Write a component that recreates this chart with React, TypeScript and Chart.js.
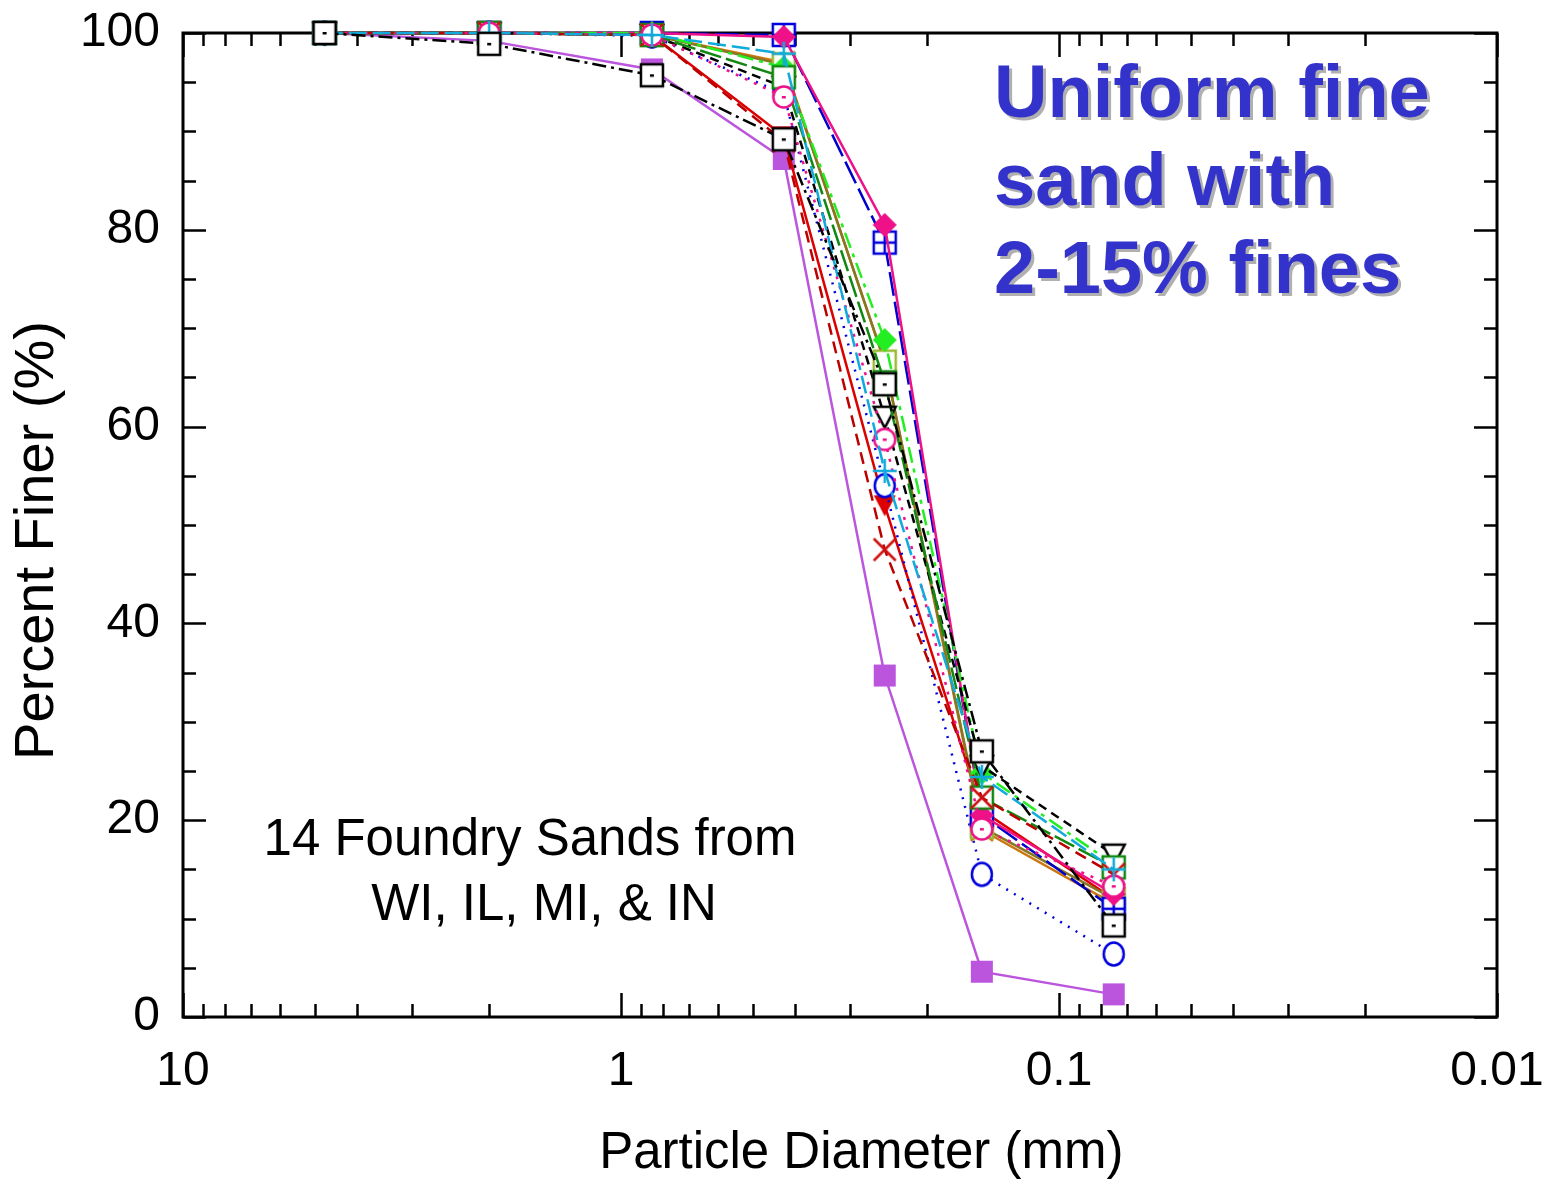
import React, { useEffect, useRef } from "react";
import { Chart, registerables } from "chart.js";

Chart.register(...registerables);

// ---- Data ----
const sieveSizesMm = [4.75, 2.0, 0.85, 0.425, 0.25, 0.15, 0.075];

const sandPurpleSquare = [100, 99.2, 96.3, 87.2, 34.7, 4.6, 2.3];
const sandBlackSquare = [100, 98.9, 95.7, 89.2, 64.3, 27.0, 9.3];
const sandPinkDiamond = [100, 100, 100, 99.6, 80.5, 20.5, 12.5];
const sandBlueGrid = [100, 100, 100, 99.8, 78.7, 20.5, 11.0];
const sandGreenDiamond = [100, 100, 100, 96.5, 68.8, 24.8, 15.5];
const sandOliveSquare = [100, 100, 99.8, 96.8, 66.6, 19.3, 12.0];
const sandOrangeCross = [100, 100, 99.8, 97.0, 66.5, 19.0, 11.5];
const sandGreenSquare = [100, 100, 99.8, 95.5, 64.5, 22.3, 15.2];
const sandBlackTriangle = [100, 100, 99.8, 94.5, 61.0, 25.5, 16.5];
const sandPinkCircle = [100, 100, 99.8, 93.5, 58.7, 19.1, 13.3];
const sandCyanPlus = [100, 100, 99.8, 97.9, 55.5, 24.4, 15.0];
const sandBlueCircle = [100, 100, 99.7, 93.8, 54.0, 14.5, 6.4];
const sandRedTriangle = [100, 100, 99.8, 89.5, 52.0, 21.0, 12.0];
const sandRedCross = [100, 100, 99.8, 89.0, 47.5, 22.3, 14.5];

const xTickValues = [0.01, 0.1, 1, 10];
const xTickLabels = ["0.01", "0.1", "1", "10"];
const yTickValues = [0, 20, 40, 60, 80, 100];
const yTickLabels = ["0", "20", "40", "60", "80", "100"];

const xTitle = "   Particle Diameter (mm)";
const yTitle = "Percent Finer (%)  ";
const noteLines = ["14 Foundry Sands from", "WI, IL, MI, & IN"];
const headlineLines = ["Uniform fine", "sand with", "2-15% fines"];

const FONT = "'Liberation Sans', Arial, Helvetica, sans-serif";

// ---- Marker factory ----
function makeMarker(kind: string, color: string): HTMLCanvasElement {
  const size = 36;
  const c = document.createElement("canvas");
  c.width = size;
  c.height = size;
  const g = c.getContext("2d")!;
  const m = size / 2;
  const h = 11;
  g.lineWidth = 2.5;
  g.strokeStyle = color;
  g.fillStyle = color;
  g.lineJoin = "miter";
  const openRect = () => {
    g.fillStyle = "#fff";
    g.fillRect(m - h, m - h, 2 * h, 2 * h);
    g.strokeRect(m - h, m - h, 2 * h, 2 * h);
    g.fillStyle = color;
  };
  switch (kind) {
    case "filledSquare":
      g.fillRect(m - h, m - h, 2 * h, 2 * h);
      break;
    case "squareDot":
      openRect();
      g.fillRect(m - 2, m - 1, 4, 2.5);
      break;
    case "square":
      openRect();
      break;
    case "squareGrid":
      openRect();
      g.beginPath();
      g.moveTo(m, m - h);
      g.lineTo(m, m + h);
      g.moveTo(m - h, m);
      g.lineTo(m + h, m);
      g.stroke();
      break;
    case "diamond":
      g.beginPath();
      g.moveTo(m, m - 12);
      g.lineTo(m + 12, m);
      g.lineTo(m, m + 12);
      g.lineTo(m - 12, m);
      g.closePath();
      g.fill();
      break;
    case "triangleDown":
      g.fillStyle = "#fff";
      g.beginPath();
      g.moveTo(m - 11, m - 10);
      g.lineTo(m + 11, m - 10);
      g.lineTo(m, m + 11);
      g.closePath();
      g.fill();
      g.stroke();
      break;
    case "filledTriangleDown":
      g.beginPath();
      g.moveTo(m - 11, m - 10);
      g.lineTo(m + 11, m - 10);
      g.lineTo(m, m + 11);
      g.closePath();
      g.fill();
      break;
    case "circleDot":
      g.fillStyle = "#fff";
      g.beginPath();
      g.arc(m, m, 10.5, 0, Math.PI * 2);
      g.fill();
      g.stroke();
      g.fillStyle = color;
      g.fillRect(m - 2, m - 1, 4, 2.5);
      break;
    case "circle":
      g.fillStyle = "#fff";
      g.beginPath();
      g.ellipse(m, m, 10, 11.5, 0, 0, Math.PI * 2);
      g.fill();
      g.stroke();
      break;
    case "plus":
      g.beginPath();
      g.moveTo(m, m - 12);
      g.lineTo(m, m + 12);
      g.moveTo(m - 12, m);
      g.lineTo(m + 12, m);
      g.stroke();
      break;
    case "cross":
      g.beginPath();
      g.moveTo(m - 11, m - 11);
      g.lineTo(m + 11, m + 11);
      g.moveTo(m + 11, m - 11);
      g.lineTo(m - 11, m + 11);
      g.stroke();
      break;
  }
  return c;
}

// ---- Series styles (drawing order: first = on top) ----
const seriesSpecs = [
  { label: "S1", values: sandBlackSquare, marker: "squareDot", mColor: "#000000", lColor: "#000000", dash: [14, 5, 3, 5] },
  { label: "S2", values: sandCyanPlus, marker: "plus", mColor: "#11AADD", lColor: "#11AADD", dash: [18, 6] },
  { label: "S3", values: sandPinkCircle, marker: "circleDot", mColor: "#EE1188", lColor: "#EE1188", dash: [3, 7] },
  { label: "S4", values: sandRedCross, marker: "cross", mColor: "#CC1111", lColor: "#BB0000", dash: [12, 7] },
  { label: "S5", values: sandGreenSquare, marker: "square", mColor: "#118811", lColor: "#118811", dash: [22, 5] },
  { label: "S6", values: sandBlackTriangle, marker: "triangleDown", mColor: "#000000", lColor: "#000000", dash: [9, 6] },
  { label: "S7", values: sandGreenDiamond, marker: "diamond", mColor: "#22EE22", lColor: "#22EE22", dash: [16, 6, 4, 6] },
  { label: "S8", values: sandPinkDiamond, marker: "diamond", mColor: "#EE1188", lColor: "#EE1188", dash: [] },
  { label: "S9", values: sandBlueGrid, marker: "squareGrid", mColor: "#0000DD", lColor: "#0000CC", dash: [24, 6] },
  { label: "S10", values: sandOliveSquare, marker: "square", mColor: "#99BB33", lColor: "#887722", dash: [] },
  { label: "S11", values: sandOrangeCross, marker: "cross", mColor: "#CC7711", lColor: "#CC7711", dash: [] },
  { label: "S12", values: sandBlueCircle, marker: "circle", mColor: "#0000DD", lColor: "#0000DD", dash: [2, 7] },
  { label: "S13", values: sandRedTriangle, marker: "filledTriangleDown", mColor: "#DD0000", lColor: "#DD0000", dash: [] },
  { label: "S14", values: sandPurpleSquare, marker: "filledSquare", mColor: "#BB55DD", lColor: "#BB55DD", dash: [] },
];

function minorXTicks(): number[] {
  const out: number[] = [];
  for (const d of [0.01, 0.1, 1]) for (let k = 2; k <= 9; k++) out.push(k * d);
  return out;
}
function minorYTicks(): number[] {
  const out: number[] = [];
  for (let v = 5; v < 100; v += 5) if (v % 20 !== 0) out.push(v);
  return out;
}

const framePlugin = {
  id: "frameTicks",
  beforeDatasetsDraw(chart: any) {
    const { ctx, chartArea: a, scales } = chart;
    const xs = scales.x;
    const ys = scales.y;
    ctx.save();
    ctx.strokeStyle = "#000";
    ctx.lineWidth = 3;
    ctx.strokeRect(a.left, a.top, a.right - a.left, a.bottom - a.top);
    ctx.lineWidth = 2.5;
    ctx.beginPath();
    const xt = (v: number, len: number) => {
      const p = Math.round(xs.getPixelForValue(v)) + 0.5;
      ctx.moveTo(p, a.bottom);
      ctx.lineTo(p, a.bottom - len);
      ctx.moveTo(p, a.top);
      ctx.lineTo(p, a.top + len);
    };
    const yt = (v: number, len: number) => {
      const p = Math.round(ys.getPixelForValue(v)) + 0.5;
      ctx.moveTo(a.left, p);
      ctx.lineTo(a.left + len, p);
      ctx.moveTo(a.right, p);
      ctx.lineTo(a.right - len, p);
    };
    xTickValues.forEach((v) => xt(v, 24));
    minorXTicks().forEach((v) => xt(v, 13));
    yTickValues.forEach((v) => yt(v, 23));
    minorYTicks().forEach((v) => yt(v, 13));
    ctx.stroke();
    ctx.restore();
  },
  afterDraw(chart: any) {
    const { ctx } = chart;
    ctx.save();
    ctx.fillStyle = "#000";
    ctx.textAlign = "center";
    ctx.textBaseline = "alphabetic";
    ctx.font = `51px ${FONT}`;
    ctx.fillText(noteLines[0], 530, 855);
    ctx.fillText(noteLines[1], 544, 920);

    ctx.textAlign = "left";
    ctx.font = `bold 74px ${FONT}`;
    const baselines = [117, 205, 293];
    headlineLines.forEach((t, i) => {
      ctx.fillStyle = "#B0B0B0";
      ctx.fillText(t, 997, baselines[i] + 3);
      ctx.fillStyle = "#3333CC";
      ctx.fillText(t, 994, baselines[i]);
    });
    ctx.restore();
  },
};

export default function App() {
  const canvasRef = useRef<HTMLCanvasElement | null>(null);

  useEffect(() => {
    const canvas = canvasRef.current;
    if (!canvas) return;
    const datasets = seriesSpecs.map((s) => ({
      label: s.label,
      data: sieveSizesMm.map((x, i) => ({ x, y: s.values[i] })),
      showLine: true,
      borderColor: s.lColor,
      borderWidth: 2.5,
      borderDash: s.dash,
      backgroundColor: s.mColor,
      pointStyle: makeMarker(s.marker, s.mColor),
      pointRadius: 12,
      pointHoverRadius: 12,
      clip: false,
      tension: 0,
    }));

    const chart = new Chart(canvas, {
      type: "scatter",
      data: { datasets: datasets as any },
      options: {
        animation: false,
        responsive: false,
        devicePixelRatio: 1,
        layout: { padding: { top: 33, right: 55, left: 0, bottom: 0 } },
        plugins: { legend: { display: false }, tooltip: { enabled: false } },
        scales: {
          x: {
            type: "logarithmic",
            reverse: true,
            min: 0.01,
            max: 10,
            position: "bottom",
            grid: { display: false, drawTicks: false },
            border: { display: false },
            afterBuildTicks: (s: any) => {
              s.ticks = xTickValues.map((v) => ({ value: v }));
            },
            afterFit: (s: any) => {
              s.height = 162;
              s.paddingLeft = 0;
              s.paddingRight = 0;
            },
            ticks: {
              autoSkip: false,
              maxRotation: 0,
              padding: 26,
              color: "#000",
              font: { family: FONT, size: 48 },
              callback: (v: any) => {
                const i = xTickValues.findIndex((t) => Math.abs(t - Number(v)) < 1e-9);
                return i >= 0 ? xTickLabels[i] : "";
              },
            },
            title: {
              display: true,
              text: xTitle,
              color: "#000",
              font: { family: FONT, size: 51, lineHeight: 1.0 },
              padding: { top: 0, bottom: 0 },
            },
          },
          y: {
            type: "linear",
            min: 0,
            max: 100,
            grid: { display: false, drawTicks: false },
            border: { display: false },
            afterBuildTicks: (s: any) => {
              s.ticks = yTickValues.map((v) => ({ value: v }));
            },
            afterFit: (s: any) => {
              s.width = 183;
              s.paddingTop = 0;
              s.paddingBottom = 0;
            },
            ticks: {
              autoSkip: false,
              padding: 23,
              color: "#000",
              font: { family: FONT, size: 48 },
              callback: (v: any) => {
                const i = yTickValues.indexOf(Number(v));
                return i >= 0 ? yTickLabels[i] : "";
              },
            },
            title: {
              display: true,
              text: yTitle,
              color: "#000",
              font: { family: FONT, size: 56, lineHeight: 1.0 },
              padding: { top: 10, bottom: 0 },
            },
          },
        },
      },
      plugins: [framePlugin],
    });
    return () => chart.destroy();
  }, []);

  return (
    <div style={{ position: "absolute", left: 0, top: 0, width: 1552, height: 1179, background: "#fff" }}>
      <canvas ref={canvasRef} width={1552} height={1179} style={{ display: "block" }} />
    </div>
  );
}
